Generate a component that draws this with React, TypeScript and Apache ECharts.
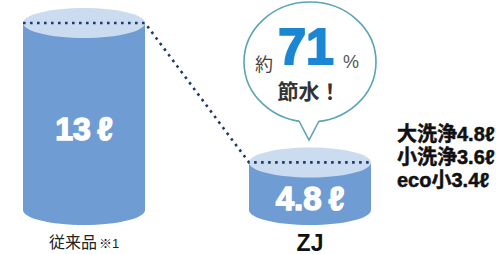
import React, { useEffect, useRef } from "react";
import * as echarts from "echarts";

const categories = ["従来品", "ZJ"];
const categoryNotes = ["※1", ""];
const volumes = [13, 4.8];
const unit = "ℓ";
const savingPercent = 71;
const bubbleWords = ["約", "%", "節水！"];
const modeLines = ["大洗浄4.8ℓ", "小洗浄3.6ℓ", "eco小3.4ℓ"];
const yMin = 2;
const yMax = 13;

const BODY = "#6f9cd3";
const TOP = "#cbdbf0";
const DOT = "#1d3b68";
const BUBBLE = "#5ba4b6";
const FONT = "'Liberation Sans', 'Noto Sans CJK JP', sans-serif";
const JP = "'Noto Sans CJK JP', sans-serif";

export default function App() {
  const ref = useRef<HTMLDivElement>(null);
  useEffect(() => {
    if (!ref.current) return;
    const chart = echarts.init(ref.current, null, { renderer: "svg" });
    const RX = 61;
    const RY = 15;
    const data = volumes.map((v, i) => [i, v]);
    const renderItem = (params: any, api: any) => {
      const idx = params.dataIndex;
      const v = api.value(1);
      const top = api.coord([idx, v]);
      const base = api.coord([idx, yMin]);
      const cx = top[0];
      const children: any[] = [
        { type: "ellipse", shape: { cx, cy: base[1], rx: RX, ry: RY }, style: { fill: BODY } },
        { type: "rect", shape: { x: cx - RX, y: top[1], width: RX * 2, height: base[1] - top[1] }, style: { fill: BODY } },
        { type: "ellipse", shape: { cx, cy: top[1], rx: RX, ry: RY }, style: { fill: TOP } },
        {
          type: "text",
          style: {
            x: cx,
            y: (top[1] + base[1]) / 2 + 12,
            text: `${volumes[idx]}\u2009${unit}`,
            fill: "#ffffff",
            stroke: "#ffffff",
            lineWidth: 1.4,
            font: `bold ${idx === 0 ? 32 : 33}px ${FONT}`,
            align: "center",
            verticalAlign: "middle",
          },
        },
      ];
      if (idx > 0) {
        const prev = api.coord([idx - 1, volumes[idx - 1]]);
        children.push({
          type: "polyline",
          shape: {
            points: [
              [prev[0] - RX, prev[1]],
              [prev[0] + RX, prev[1]],
              [cx - RX, top[1]],
              [cx + RX, top[1]],
            ],
          },
          style: { stroke: DOT, lineWidth: 2.6, lineDash: [2.6, 4.4], fill: null },
          z2: 10,
        });
      }
      return { type: "group", children };
    };

    const bcx = 310;
    const bcy = 62;
    const brx = 66;
    const bry = 60;
    const tipY = 140;

    chart.setOption({
      animation: false,
      grid: { left: 84, right: 186, top: 23, bottom: 42 },
      xAxis: {
        type: "category",
        data: categories,
        boundaryGap: false,
        axisLine: { show: false },
        axisTick: { show: false },
        axisLabel: {
          margin: 21,
          interval: 0,
          formatter: (val: string, i: number) =>
            categoryNotes[i] ? `{a|${val}}{b|${categoryNotes[i]}}` : `{z|${val}}`,
          rich: {
            a: { fontFamily: JP, fontSize: 16, color: "#222" },
            b: { fontFamily: FONT, fontSize: 13, color: "#222", padding: [6, 0, 0, 2] },
            z: { fontFamily: FONT, fontSize: 23, fontWeight: "bold", color: "#111" },
          },
        },
      },
      yAxis: { type: "value", min: yMin, max: yMax, show: false },
      series: [
        {
          type: "custom",
          renderItem,
          data,
          encode: { x: 0, y: 1 },
          clip: false,
        },
      ],
      graphic: [
        {
          type: "ellipse",
          shape: { cx: bcx, cy: bcy, rx: brx, ry: bry },
          style: { fill: "#fff", stroke: BUBBLE, lineWidth: 1.6 },
        },
        {
          type: "polygon",
          shape: { points: [[bcx - 13, bcy + bry - 6], [bcx - 1, tipY], [bcx + 11, bcy + bry - 6]] },
          style: { fill: "#fff" },
        },
        {
          type: "polyline",
          shape: { points: [[bcx - 11, bcy + bry - 1], [bcx - 1, tipY], [bcx + 9, bcy + bry - 1]] },
          style: { stroke: BUBBLE, lineWidth: 1.6, fill: null },
        },
        {
          type: "text",
          style: { x: 264, y: 63, text: bubbleWords[0], font: `18px ${JP}`, fill: "#444", align: "center", verticalAlign: "middle" },
        },
        {
          type: "text",
          style: { x: 306, y: 47, text: String(savingPercent), font: `bold 50px ${FONT}`, fill: "#1b86d3", stroke: "#1b86d3", lineWidth: 2, align: "center", verticalAlign: "middle" },
        },
        {
          type: "text",
          style: { x: 351, y: 62, text: bubbleWords[1], font: `18px ${FONT}`, fill: "#555", align: "center", verticalAlign: "middle" },
        },
        {
          type: "text",
          style: { x: 309, y: 90, text: bubbleWords[2], font: `bold 21px ${JP}`, fill: "#333", align: "center", verticalAlign: "middle" },
        },
        ...modeLines.map((t, i) => ({
          type: "text",
          style: { x: 397, y: 134 + i * 23, text: t, font: `bold 20px ${FONT}`, fill: "#111", stroke: "#111", lineWidth: 0.5, align: "left", verticalAlign: "middle" },
        })),
      ],
    });
    return () => chart.dispose();
  }, []);
  return <div ref={ref} style={{ position: "absolute", left: 0, top: 0, width: 496, height: 254 }} />;
}
